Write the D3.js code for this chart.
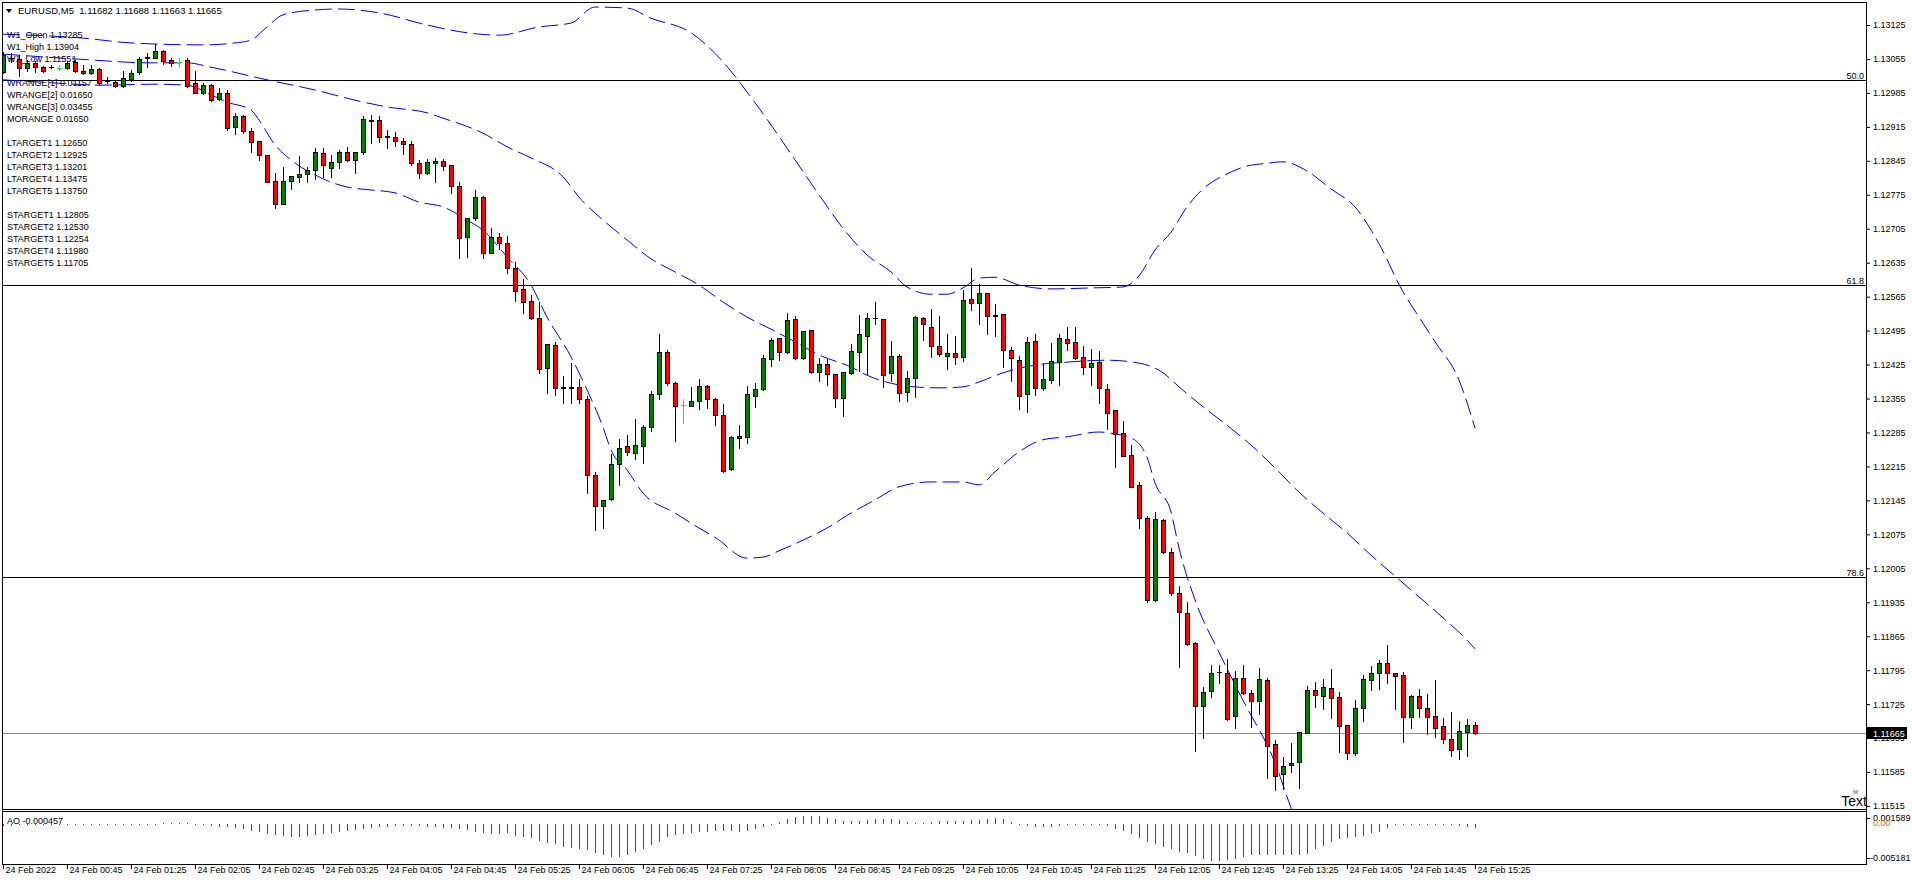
<!DOCTYPE html>
<html><head><meta charset="utf-8">
<script src="https://cdn.jsdelivr.net/npm/d3@7"></script>
<style>
html,body{margin:0;padding:0;background:#fff;overflow:hidden}
svg{display:block}
text{font-family:"Liberation Sans",Arial,sans-serif;}
</style></head><body>
<svg id="c" width="1912" height="885"></svg>
<script>
// ---------------- DATA ----------------
const titleText = "EURUSD,M5  1.11682 1.11688 1.11663 1.11665";
const infoLines = ["W1_Open 1.13285","W1_High 1.13904","W1_Low 1.11551","",
 "WRANGE[1] 0.01157","WRANGE[2] 0.01650","WRANGE[3] 0.03455","MORANGE 0.01650","",
 "LTARGET1 1.12650","LTARGET2 1.12925","LTARGET3 1.13201","LTARGET4 1.13475","LTARGET5 1.13750","",
 "STARGET1 1.12805","STARGET2 1.12530","STARGET3 1.12254","STARGET4 1.11980","STARGET5 1.11705"];

const openP = [1.13029,1.13057,1.13054,1.13036,1.13046,1.13038,1.13039,1.13037,1.13036,1.13049,
 1.13031,1.13027,1.13034,1.13010,1.13007,1.12999,1.13014,1.13029,1.13056,1.13058,
 1.13071,1.13053,1.13049,1.13053,1.13005,1.12985,1.13001,1.12972,1.12984,1.12915,
 1.12937,1.12906,1.12885,1.12857,1.12803,1.12757,1.12803,1.12812,1.12817,1.12826,
 1.12861,1.12831,1.12842,1.12863,1.12847,1.12863,1.12929,1.12929,1.12896,1.12895,
 1.12885,1.12880,1.12840,1.12819,1.12840,1.12845,1.12836,1.12793,1.12687,1.12728,
 1.12771,1.12656,1.12687,1.12675,1.12625,1.12580,1.12557,1.12520,1.12417,1.12465,
 1.12377,1.12379,1.12379,1.12353,1.12197,1.12133,1.12147,1.12220,1.12257,1.12242,
 1.12257,1.12296,1.12364,1.12450,1.12388,1.12342,1.12340,1.12350,1.12381,1.12353,
 1.12322,1.12209,1.12273,1.12276,1.12361,1.12374,1.12436,1.12479,1.12450,1.12518,
 1.12439,1.12496,1.12409,1.12426,1.12405,1.12357,1.12407,1.12450,1.12484,1.12520,
 1.12518,1.12407,1.12443,1.12368,1.12397,1.12522,1.12503,1.12463,1.12443,1.12448,
 1.12441,1.12560,1.12551,1.12572,1.12526,1.12529,1.12455,1.12434,1.12364,1.12474,
 1.12377,1.12394,1.12431,1.12477,1.12471,1.12440,1.12421,1.12430,1.12375,1.12331,
 1.12283,1.12239,1.12177,1.12108,1.11940,1.12105,1.12039,1.11955,1.11912,1.11850,
 1.11722,1.11753,1.11792,1.11789,1.11700,1.11778,1.11747,1.11732,1.11775,1.11642,
 1.11580,1.11599,1.11605,1.11666,1.11754,1.11742,1.11759,1.11739,1.11682,1.11624,
 1.11716,1.11775,1.11789,1.11809,1.11789,1.11785,1.11698,1.11742,1.11718,1.11700,
 1.11680,1.11654,1.11632,1.11668,1.11682];
const highP = [1.13069,1.13068,1.13063,1.13053,1.13051,1.13040,1.13043,1.13042,1.13051,1.13053,
 1.13042,1.13043,1.13036,1.13017,1.13010,1.13030,1.13032,1.13060,1.13067,1.13085,
 1.13073,1.13056,1.13056,1.13058,1.13030,1.13005,1.13003,1.12995,1.12992,1.12943,
 1.12939,1.12912,1.12886,1.12857,1.12819,1.12833,1.12814,1.12855,1.12833,1.12871,
 1.12871,1.12857,1.12867,1.12874,1.12863,1.12937,1.12939,1.12937,1.12909,1.12905,
 1.12893,1.12885,1.12847,1.12849,1.12850,1.12849,1.12837,1.12802,1.12727,1.12785,
 1.12772,1.12706,1.12696,1.12690,1.12636,1.12601,1.12568,1.12555,1.12468,1.12472,
 1.12402,1.12428,1.12395,1.12360,1.12204,1.12146,1.12241,1.12271,1.12280,1.12312,
 1.12300,1.12370,1.12488,1.12455,1.12389,1.12353,1.12378,1.12395,1.12382,1.12357,
 1.12344,1.12277,1.12300,1.12381,1.12388,1.12445,1.12479,1.12480,1.12532,1.12525,
 1.12495,1.12497,1.12439,1.12436,1.12406,1.12410,1.12467,1.12527,1.12531,1.12555,
 1.12519,1.12474,1.12446,1.12412,1.12525,1.12523,1.12539,1.12525,1.12487,1.12484,
 1.12579,1.12624,1.12591,1.12573,1.12550,1.12530,1.12462,1.12443,1.12481,1.12488,
 1.12426,1.12469,1.12489,1.12502,1.12502,1.12463,1.12457,1.12453,1.12384,1.12332,
 1.12309,1.12259,1.12182,1.12113,1.12122,1.12107,1.12046,1.11968,1.11935,1.11854,
 1.11760,1.11806,1.11806,1.11819,1.11793,1.11806,1.11754,1.11799,1.11779,1.11652,
 1.11617,1.11645,1.11668,1.11763,1.11771,1.11777,1.11797,1.11749,1.11683,1.11733,
 1.11785,1.11804,1.11816,1.11847,1.11790,1.11792,1.11744,1.11756,1.11746,1.11775,
 1.11696,1.11709,1.11690,1.11694,1.11688];
const lowP = [1.13026,1.13049,1.13020,1.13031,1.13029,1.13029,1.13037,1.13032,1.13034,1.13029,
 1.13025,1.13025,1.13001,1.13005,1.12998,1.12998,1.13010,1.13025,1.13039,1.13057,
 1.13045,1.13040,1.13039,1.12998,1.12984,1.12982,1.12969,1.12970,1.12909,1.12900,
 1.12903,1.12864,1.12847,1.12801,1.12747,1.12755,1.12786,1.12802,1.12801,1.12808,
 1.12812,1.12812,1.12831,1.12845,1.12819,1.12859,1.12881,1.12884,1.12871,1.12875,
 1.12860,1.12836,1.12810,1.12818,1.12802,1.12826,1.12779,1.12645,1.12647,1.12722,
 1.12645,1.12655,1.12663,1.12613,1.12557,1.12531,1.12518,1.12407,1.12366,1.12362,
 1.12346,1.12345,1.12345,1.12160,1.12084,1.12089,1.12146,1.12177,1.12239,1.12230,
 1.12223,1.12288,1.12353,1.12383,1.12268,1.12305,1.12339,1.12333,1.12335,1.12300,
 1.12204,1.12207,1.12252,1.12264,1.12338,1.12373,1.12422,1.12434,1.12448,1.12436,
 1.12436,1.12408,1.12391,1.12383,1.12338,1.12318,1.12406,1.12412,1.12405,1.12509,
 1.12378,1.12391,1.12350,1.12350,1.12359,1.12476,1.12441,1.12443,1.12416,1.12426,
 1.12433,1.12537,1.12509,1.12488,1.12484,1.12421,1.12392,1.12333,1.12328,1.12362,
 1.12373,1.12388,1.12383,1.12455,1.12436,1.12406,1.12383,1.12346,1.12292,1.12214,
 1.12236,1.12172,1.12089,1.11936,1.11938,1.12036,1.11950,1.11802,1.11847,1.11629,
 1.11656,1.11740,1.11769,1.11692,1.11675,1.11746,1.11678,1.11705,1.11572,1.11549,
 1.11551,1.11586,1.11553,1.11665,1.11720,1.11714,1.11696,1.11627,1.11611,1.11621,
 1.11690,1.11754,1.11756,1.11769,1.11714,1.11646,1.11675,1.11698,1.11663,1.11657,
 1.11644,1.11618,1.11611,1.11619,1.11663];
const closeP = [1.13063,1.13056,1.13037,1.13047,1.13038,1.13031,1.13038,1.13037,1.13047,1.13031,
 1.13027,1.13034,1.13005,1.13009,1.12999,1.13015,1.13027,1.13054,1.13060,1.13072,
 1.13051,1.13046,1.13049,1.12999,1.12985,1.13001,1.12970,1.12984,1.12913,1.12937,
 1.12906,1.12884,1.12857,1.12802,1.12757,1.12803,1.12814,1.12817,1.12826,1.12863,
 1.12836,1.12842,1.12863,1.12847,1.12863,1.12931,1.12928,1.12895,1.12895,1.12885,
 1.12880,1.12840,1.12819,1.12842,1.12845,1.12835,1.12794,1.12685,1.12727,1.12771,
 1.12656,1.12687,1.12675,1.12625,1.12577,1.12555,1.12520,1.12415,1.12467,1.12376,
 1.12378,1.12377,1.12353,1.12197,1.12133,1.12146,1.12220,1.12254,1.12244,1.12259,
 1.12296,1.12364,1.12450,1.12388,1.12340,1.12342,1.12350,1.12381,1.12353,1.12322,
 1.12206,1.12276,1.12278,1.12364,1.12374,1.12438,1.12476,1.12450,1.12517,1.12438,
 1.12494,1.12409,1.12426,1.12405,1.12357,1.12409,1.12453,1.12487,1.12522,1.12521,
 1.12403,1.12443,1.12367,1.12397,1.12524,1.12508,1.12463,1.12446,1.12448,1.12441,
 1.12558,1.12551,1.12572,1.12526,1.12527,1.12454,1.12438,1.12361,1.12471,1.12377,
 1.12395,1.12432,1.12479,1.12469,1.12439,1.12419,1.12428,1.12376,1.12325,1.12281,
 1.12237,1.12173,1.12108,1.11940,1.12106,1.12038,1.11955,1.11914,1.11848,1.11722,
 1.11751,1.11790,1.11791,1.11694,1.11778,1.11747,1.11731,1.11776,1.11639,1.11577,
 1.11598,1.11604,1.11667,1.11754,1.11744,1.11760,1.11737,1.11680,1.11624,1.11716,
 1.11776,1.11789,1.11809,1.11789,1.11784,1.11698,1.11742,1.11718,1.11698,1.11675,
 1.11654,1.11630,1.11670,1.11682,1.11665];

const upperBars = [0,10,16,25,29,31,33,35,39,42,47,53,58,62,67,71,74,78,81,86,90,93,96,99,102,105,108,111,113,116,118,120,122,124,127,131,136,140,142,144,146,148,150,153,155,158,160,163,166,169,172,175,177,179,182,184];
const upperVals = [1.13106,1.13098,1.13088,1.13084,1.13088,1.13094,1.13121,1.13146,1.13156,1.13158,1.13150,1.13125,1.13109,1.13104,1.13121,1.13129,1.13162,1.13160,1.13139,1.13109,1.13049,1.12987,1.12919,1.12847,1.12775,1.12706,1.12651,1.12616,1.12585,1.12570,1.12570,1.12583,1.12603,1.12605,1.12589,1.12581,1.12583,1.12585,1.12608,1.12661,1.12698,1.12750,1.12787,1.12818,1.12832,1.12840,1.12843,1.12824,1.12787,1.12750,1.12674,1.12575,1.12523,1.12472,1.12393,1.12294];
const midBars = [0,11,18,23,26,33,39,44,48,53,55,60,63,66,70,72,75,78,81,84,87,90,93,96,99,102,106,108,112,114,117,120,122,125,129,133,138,142,145,147,150,153,156,159,162,165,168,171,174,177,180,183,184];
const midVals = [1.13065,1.13053,1.13047,1.13047,1.13038,1.13012,1.12991,1.12970,1.12956,1.12944,1.12933,1.12902,1.12874,1.12851,1.12812,1.12770,1.12723,1.12682,1.12643,1.12616,1.12589,1.12554,1.12523,1.12498,1.12472,1.12445,1.12420,1.12403,1.12383,1.12379,1.12377,1.12379,1.12389,1.12408,1.12424,1.12430,1.12434,1.12428,1.12408,1.12379,1.12338,1.12300,1.12259,1.12212,1.12162,1.12119,1.12078,1.12032,1.11989,1.11946,1.11903,1.11857,1.11839];
const lowBars = [0,7,12,19,23,26,28,31,32,34,36,39,41,43,46,49,52,55,58,60,63,66,68,71,73,75,76,78,80,84,87,89,93,95,97,100,103,106,109,112,116,120,122,124,127,130,133,137,139,141,143,144,146,147,149,152,155,159,161,163];
const lowVals = [1.13012,1.13005,1.13001,1.13003,1.13001,1.12981,1.12966,1.12950,1.12929,1.12878,1.12847,1.12816,1.12801,1.12791,1.12785,1.12779,1.12760,1.12750,1.12723,1.12702,1.12647,1.12589,1.12523,1.12441,1.12373,1.12296,1.12249,1.12208,1.12160,1.12119,1.12088,1.12069,1.12026,1.12028,1.12041,1.12063,1.12088,1.12119,1.12146,1.12173,1.12183,1.12183,1.12177,1.12204,1.12245,1.12270,1.12276,1.12286,1.12282,1.12274,1.12234,1.12181,1.12121,1.12047,1.11940,1.11832,1.11733,1.11604,1.11511,1.11425];

const aoValues = [-0.00020,-0.00018,-0.00015,-0.00012,-0.00010,-0.00008,-0.00009,-0.00007,-0.00005,-0.00004,
 -0.00005,-0.00006,-0.00007,-0.00008,-0.00009,-0.00010,-0.00011,-0.00008,-0.00005,-0.00002,
 0.00001,0.00002,0.00003,0.00002,-0.00001,-0.00010,-0.00024,-0.00032,-0.00041,-0.00054,
 -0.00067,-0.00089,-0.00106,-0.00128,-0.00141,-0.00154,-0.00163,-0.00168,-0.00154,-0.00141,
 -0.00132,-0.00119,-0.00106,-0.00089,-0.00076,-0.00063,-0.00054,-0.00041,-0.00032,-0.00024,
 -0.00020,-0.00024,-0.00028,-0.00032,-0.00041,-0.00050,-0.00054,-0.00056,-0.00076,-0.00098,
 -0.00119,-0.00128,-0.00130,-0.00119,-0.00154,-0.00163,-0.00185,-0.00215,-0.00241,-0.00263,
 -0.00294,-0.00315,-0.00324,-0.00337,-0.00372,-0.00402,-0.00424,-0.00433,-0.00402,-0.00368,
 -0.00324,-0.00272,-0.00228,-0.00172,-0.00141,-0.00132,-0.00111,-0.00105,-0.00098,-0.00090,
 -0.00085,-0.00090,-0.00102,-0.00085,-0.00067,-0.00032,-0.00002,0.00026,0.00068,0.00090,
 0.00107,0.00112,0.00108,0.00076,0.00063,0.00041,0.00039,0.00041,0.00050,0.00074,
 0.00068,0.00063,0.00054,0.00032,0.00008,0.00013,0.00024,0.00039,0.00041,0.00040,
 0.00039,0.00054,0.00056,0.00063,0.00076,0.00072,0.00028,-0.00002,-0.00026,-0.00034,
 -0.00041,-0.00034,-0.00026,-0.00015,-0.00009,-0.00006,-0.00008,-0.00015,-0.00024,-0.00067,
 -0.00085,-0.00133,-0.00176,-0.00228,-0.00263,-0.00294,-0.00328,-0.00359,-0.00381,-0.00416,
 -0.00459,-0.00481,-0.00478,-0.00472,-0.00459,-0.00424,-0.00402,-0.00400,-0.00402,-0.00404,
 -0.00406,-0.00404,-0.00406,-0.00385,-0.00329,-0.00281,-0.00229,-0.00198,-0.00176,-0.00163,
 -0.00150,-0.00119,-0.00106,-0.00050,-0.00015,-0.00005,-0.00007,-0.00009,-0.00008,-0.00006,
 -0.00010,-0.00015,-0.00020,-0.00030,-0.000457];
const aoLabel = "AO -0.000457";

const timeLabels = ["24 Feb 2022","24 Feb 00:45","24 Feb 01:25","24 Feb 02:05","24 Feb 02:45","24 Feb 03:25",
 "24 Feb 04:05","24 Feb 04:45","24 Feb 05:25","24 Feb 06:05","24 Feb 06:45","24 Feb 07:25","24 Feb 08:05",
 "24 Feb 08:45","24 Feb 09:25","24 Feb 10:05","24 Feb 10:45","24 Feb 11:25","24 Feb 12:05","24 Feb 12:45",
 "24 Feb 13:25","24 Feb 14:05","24 Feb 14:45","24 Feb 15:25"];
const labelBars = [0,8,16,24,32,40,48,56,64,72,80,88,96,104,112,120,128,136,144,152,160,168,176,184];
const priceTicks = [1.11515,1.11585,1.11655,1.11725,1.11795,1.11865,1.11935,1.12005,1.12075,1.12145,1.12215,1.12285,
 1.12355,1.12425,1.12495,1.12565,1.12635,1.12705,1.12775,1.12845,1.12915,1.12985,1.13055,1.13125];
const fibPrices = [1.13012,1.12589,1.11988];
const fibNames = ["50.0","61.8","78.6"];
const lastPrice = 1.11665;
const aoTicks = [0.001589,-0.005181];
const aoZeroLabel = "0.00";

// ---------------- LAYOUT ----------------
const mainL=2, mainR=1866, mainT=2, mainB=809, aoT=812, aoB=864;
const svg=d3.select("#c");
svg.append("rect").attr("width",1912).attr("height",885).attr("fill","#fff");
const x=d3.scaleLinear().domain([0,184]).range([3,1475]);
const y=d3.scaleLinear().domain([1.11515,1.13125]).range([806,25]);
const yA=d3.scaleLinear().domain([-0.005181,0.001589]).range([864,812]);
const FONT="9px";

svg.append("defs").append("clipPath").attr("id","clipMain").append("rect")
  .attr("x",mainL).attr("y",mainT).attr("width",mainR-mainL).attr("height",mainB-mainT);

// info text (behind)
svg.append("g").selectAll("text").data(infoLines).join("text")
  .attr("x",7).attr("y",(d,i)=>35+12*i+3).attr("font-size",FONT).attr("fill","#000").text(d=>d);

const main=svg.append("g").attr("clip-path","url(#clipMain)");

// fib lines
main.selectAll("line.fib").data(fibPrices).join("line").attr("class","fib")
  .attr("x1",mainL).attr("x2",mainR).attr("y1",d=>Math.round(y(d))+0.5).attr("y2",d=>Math.round(y(d))+0.5)
  .attr("stroke","#000").attr("stroke-width",1).attr("shape-rendering","crispEdges");
main.selectAll("text.fib").data(fibPrices).join("text").attr("class","fib")
  .attr("x",mainR-2).attr("y",d=>Math.round(y(d))-1.5).attr("text-anchor","end")
  .attr("font-size",FONT).attr("fill","#000").text((d,i)=>fibNames[i]);

// last price line
main.append("line").attr("x1",mainL).attr("x2",mainR)
  .attr("y1",Math.round(y(lastPrice))+0.5).attr("y2",Math.round(y(lastPrice))+0.5)
  .attr("stroke","#8c8c8c").attr("stroke-width",1).attr("shape-rendering","crispEdges");

// bands
const bandLine=d3.line().x(d=>x(d[0])).y(d=>y(d[1])).curve(d3.curveMonotoneX);
[[upperBars,upperVals],[midBars,midVals],[lowBars,lowVals]].forEach(([b,v])=>{
  main.append("path").datum(b.map((bi,i)=>[bi,v[i]])).attr("d",bandLine)
    .attr("fill","none").attr("stroke","#0000e6").attr("stroke-width",1)
    .attr("stroke-dasharray","17,6");
});

// candles
const idx=d3.range(openP.length);
const cg=main.append("g").attr("shape-rendering","crispEdges");
idx.forEach(i=>{
  const xc=Math.round(x(i)), o=openP[i], c=closeP[i], h=highP[i], l=lowP[i];
  const doji = o===c;
  const col = doji ? "#00ff00" : "#000";
  cg.append("line").attr("x1",xc+0.5).attr("x2",xc+0.5)
    .attr("y1",Math.round(y(h))).attr("y2",Math.round(y(l))+1).attr("stroke",col);
  const top=Math.round(y(Math.max(o,c))), bot=Math.round(y(Math.min(o,c)));
  if(doji){
    cg.append("line").attr("x1",xc-2).attr("x2",xc+3).attr("y1",top+0.5).attr("y2",top+0.5).attr("stroke",col);
  } else if(bot-top<1){
    cg.append("line").attr("x1",xc-2).attr("x2",xc+3).attr("y1",top+0.5).attr("y2",top+0.5).attr("stroke","#000");
  } else {
    cg.append("rect").attr("x",xc-1.5).attr("y",top+0.5).attr("width",4).attr("height",bot-top)
      .attr("fill", c>o ? "#008000" : "#ff0000").attr("stroke","#000").attr("stroke-width",1);
  }
});

// frames
const fr=svg.append("g").attr("stroke","#000").attr("stroke-width",1).attr("shape-rendering","crispEdges");
fr.append("line").attr("x1",mainL).attr("x2",mainR+1).attr("y1",mainT+0.5).attr("y2",mainT+0.5);
fr.append("line").attr("x1",mainL).attr("x2",mainR+1).attr("y1",mainB+0.5).attr("y2",mainB+0.5);
fr.append("line").attr("x1",mainL).attr("x2",mainR+1).attr("y1",aoT-0.5).attr("y2",aoT-0.5);
fr.append("line").attr("x1",mainL).attr("x2",mainR+1).attr("y1",aoB+0.5).attr("y2",aoB+0.5);
fr.append("line").attr("x1",mainL+0.5).attr("x2",mainL+0.5).attr("y1",mainT).attr("y2",aoB+1);
fr.append("line").attr("x1",mainR+0.5).attr("x2",mainR+0.5).attr("y1",mainT).attr("y2",aoB+1);

// right price axis
const ax=svg.append("g").attr("transform",`translate(${mainR+1},0)`)
  .call(d3.axisRight(y).tickValues(priceTicks).tickSize(3).tickPadding(3).tickFormat(d=>d.toFixed(5)));
ax.select(".domain").remove();
ax.selectAll("text").attr("font-size",FONT).attr("font-family","Liberation Sans, Arial, sans-serif").attr("fill","#000");
ax.selectAll("line").attr("stroke","#000");

// last price label
const ly=Math.round(y(lastPrice));
svg.append("rect").attr("x",mainR+1).attr("y",ly-6).attr("width",40).attr("height",12).attr("fill","#000");
svg.append("text").attr("x",mainR+7).attr("y",ly+3.5).attr("font-size",FONT).attr("fill","#fff").text(lastPrice.toFixed(5));

// AO
const aoG=svg.append("g").attr("shape-rendering","crispEdges");
const z0=Math.round(yA(0));
aoValues.forEach((v,i)=>{
  const up = i===0 ? true : v>aoValues[i-1];
  let yv=Math.round(yA(v));
  if(yv===z0) yv = v>=0 ? z0-1 : z0+1;
  aoG.append("line").attr("x1",Math.round(x(i))+0.5).attr("x2",Math.round(x(i))+0.5)
    .attr("y1",z0).attr("y2",yv).attr("stroke",up?"#008000":"#ff0000");
});
svg.append("text").attr("x",7).attr("y",824).attr("font-size",FONT).attr("fill","#000").text(aoLabel);
// AO scale labels: MT4 insets the max/min labels inside the sub-window
const aoLabelY = d => Math.round(Math.min(Math.max(yA(d), aoT+6), aoB-6));
const aog=svg.append("g").attr("shape-rendering","crispEdges");
aog.selectAll("line").data(aoTicks).join("line")
  .attr("x1",mainR+1).attr("x2",mainR+4).attr("y1",d=>aoLabelY(d)+0.5).attr("y2",d=>aoLabelY(d)+0.5).attr("stroke","#000");
svg.append("g").selectAll("text").data(aoTicks).join("text")
  .attr("x",d=>d<0?mainR+4:mainR+7).attr("y",d=>aoLabelY(d)+3).attr("font-size",FONT).attr("fill","#000")
  .text(d=>d.toFixed(6));
svg.append("text").attr("x",mainR+7).attr("y",z0+2).attr("font-size",FONT).attr("fill","#b07000").text(aoZeroLabel);

// time axis
const tx=svg.append("g").attr("transform",`translate(0,${aoB+1})`)
  .call(d3.axisBottom(x).tickValues(labelBars).tickSize(4).tickPadding(2).tickFormat((d,i)=>timeLabels[i]));
tx.select(".domain").remove();
tx.selectAll("text").attr("font-size",FONT).attr("font-family","Liberation Sans, Arial, sans-serif")
  .attr("fill","#000").attr("text-anchor","start").attr("x",2).attr("dy","0.2em");
tx.selectAll("line").attr("stroke","#000");

// "Text" object
svg.append("text").attr("x",1855).attr("y",794).attr("font-size","8px").attr("fill","#666").attr("text-anchor","middle")
  .attr("font-family","DejaVu Sans").text("\u2620");
svg.append("text").attr("x",mainR+1).attr("y",806).attr("font-size","14px").attr("fill","#000")
  .attr("text-anchor","end").text("Text");

// title
svg.append("path").attr("d","M6,9 L12,9 L9,13 Z").attr("fill","#000");
svg.append("text").attr("x",18).attr("y",14).attr("font-size","9.5px").attr("fill","#000")
  .style("white-space","pre").text(titleText);
</script>
</body></html>
